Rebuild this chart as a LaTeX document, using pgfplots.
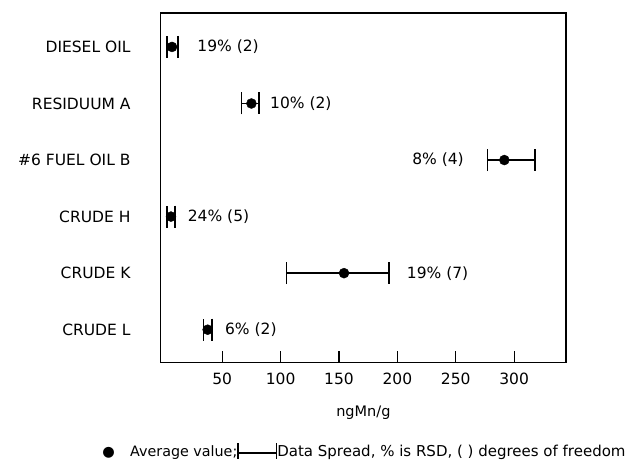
\documentclass[border=0pt]{standalone}
\usepackage{fontspec}
\setmainfont{DejaVu Sans}
\usepackage{pgfplots}
\pgfplotsset{compat=1.18}

\begin{document}
\begin{tikzpicture}
\fontsize{15.5}{18}\selectfont
\begin{axis}[
    scale only axis,
    width=405.3pt, height=349.5pt,
    xmin=-2.7, xmax=344.4,
    ymin=-0.6, ymax=5.58, y dir=reverse,
    xtick={50,100,150,200,250,300},
    ytick={0,1,2,3,4,5},
    yticklabels={DIESEL OIL, RESIDUUM A, \#6 FUEL OIL B, CRUDE H, CRUDE K, CRUDE L},
    xtick pos=lower, tick align=inside,
    major tick length=12pt,
    xtick style={line width=1.1pt, black},
    ytick style={draw=none},
    axis line style={line width=1.1pt},
    /pgf/number format/assume math mode=true,
    xticklabel style={inner sep=0pt, yshift=-10pt, font=\fontsize{15.5}{18}\selectfont},
    yticklabel style={inner sep=0pt, xshift=-30pt, font=\fontsize{15.5}{18}\selectfont},
    xlabel={ngMn/g},
    xlabel style={at={(rel axis cs:0.5,0)}, anchor=base, yshift=-53.5pt, font=\fontsize{14.5}{18}\selectfont},
    clip=false,
]
  \addplot[black, only marks, mark=*, mark size=5pt,
    error bars/.cd, x dir=both, x explicit,
    error mark=|,
    error mark options={mark size=11pt, line width=1.5pt, black},
    error bar style={line width=1.5pt, black}]
  coordinates {
    (7,0)     += (5,0)    -= (4.5,0)
    (75,1)    += (6.5,0)  -= (8.6,0)
    (291.6,2) += (26.4,0) -= (14.6,0)
    (6.1,3)   += (3.4,0)  -= (3.2,0)
    (154.3,4) += (38.7,0) -= (49.1,0)
    (37.5,5)  += (3.7,0)  -= (3.7,0)
  };
  \node[anchor=west, inner sep=0pt] at (axis cs:28.6,0) {19\% (2)};
  \node[anchor=west, inner sep=0pt] at (axis cs:90.9,1) {10\% (2)};
  \node[anchor=east, inner sep=0pt] at (axis cs:257,2) {8\% (4)};
  \node[anchor=west, inner sep=0pt] at (axis cs:20.4,3) {24\% (5)};
  \node[anchor=west, inner sep=0pt] at (axis cs:208,4) {19\% (7)};
  \node[anchor=west, inner sep=0pt] at (axis cs:52.3,5) {6\% (2)};
\end{axis}
\node[anchor=base, inner sep=0pt, font=\fontsize{14.3}{18}\selectfont]
  at ([xshift=-52.2pt, yshift=-94.2pt]current axis.south west) {●};
\node[anchor=base west, inner sep=0pt, font=\fontsize{14.3}{18}\selectfont]
  at ([xshift=-30.7pt, yshift=-94.2pt]current axis.south west)
  {Average value;\rule[-2pt]{1.4pt}{16pt}\rule[3pt]{37.2pt}{1.6pt}\rule[-2pt]{1.4pt}{16pt}{\fontsize{15}{18}\selectfont Data Spread, \% is RSD, ( ) degrees of freedom}};
\path (current axis.south west) ++(-160.7pt,-98.5pt) rectangle ++(635pt,461pt);
\end{tikzpicture}
\end{document}
